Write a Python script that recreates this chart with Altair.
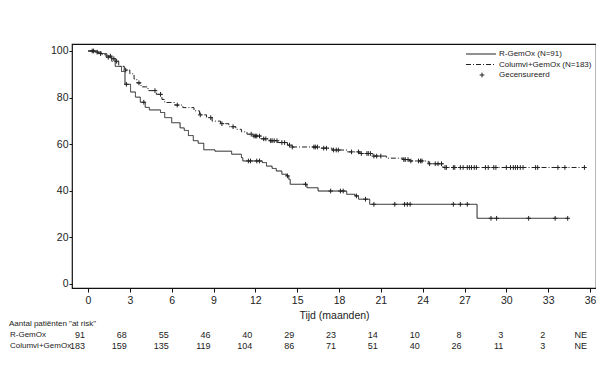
import altair as alt
import pandas as pd

# ---- Kaplan-Meier step data ----
r_times = [0, 0.7, 1.35, 1.7, 1.95, 2.4, 2.65, 3.05, 3.4, 3.75, 4.1, 4.4, 5.2, 5.5, 6.0, 6.6, 6.9,
           7.2, 7.55, 7.9, 8.3, 9.1, 10.3, 11.0, 11.1, 12.5, 12.8, 13.2, 13.5, 13.9, 14.25, 14.4,
           14.5, 15.7, 16.5, 18.55, 19.15, 19.4, 20.2, 27.9]
r_surv = [100, 98.9, 97.8, 96.7, 93.4, 91.2, 85.7, 82.4, 80.2, 78.0, 75.8, 74.7, 73.6, 71.4, 69.2,
          67.0, 65.9, 63.7, 61.5, 60.4, 57.6, 57.0, 55.7, 54.2, 52.8, 52.1, 50.6, 49.6, 48.5, 47.1,
          46.4, 44.9, 42.8, 41.3, 39.9, 38.5, 37.8, 36.4, 34.2, 28.2]
r_end = 34.4
r_cens = [0.3, 0.9, 1.6, 1.85, 2.75, 4.0, 11.5, 11.65, 12.1, 12.3, 14.3, 15.6, 17.4, 18.1, 18.3,
          19.25, 19.9, 20.5, 22.0, 22.7, 22.9, 23.1, 26.2, 26.7, 27.2, 28.9, 29.3, 31.6, 33.5, 34.4]

c_times = [0, 0.5, 1.0, 1.3, 1.7, 2.2, 2.6, 3.0, 3.3, 3.5, 3.8, 4.3, 4.9, 5.3, 5.5, 6.2, 6.8, 7.6,
           8.0, 8.5, 8.9, 9.5, 10.1, 10.6, 11.0, 11.4, 11.8, 12.4, 13.0, 13.6, 14.3, 14.6, 16.6,
           17.5, 18.6, 19.5, 20.4, 21.4, 22.6, 23.05, 24.4, 25.45]
c_surv = [100, 99.5, 98.4, 97.3, 95.6, 93.4, 91.8, 90.2, 88.0, 86.3, 84.6, 83.0, 81.4, 79.2, 77.9,
          76.8, 75.7, 74.3, 72.6, 71.4, 69.9, 68.8, 67.5, 66.4, 65.3, 64.3, 63.5, 62.3, 61.5, 60.7,
          59.6, 58.8, 58.3, 57.5, 56.7, 56.0, 54.9, 54.0, 53.4, 52.8, 51.6, 50.0]
c_end = 35.6
c_cens = [0.4, 0.65, 1.45, 2.05, 2.7, 3.65, 4.8, 5.2, 6.4, 8.05, 8.8, 9.6, 10.4, 11.7, 11.9, 12.0,
          12.1, 12.3, 12.6, 12.75, 13.1, 13.2, 13.35, 13.55, 13.9, 14.1, 14.45, 14.65, 16.2, 16.3,
          16.45, 16.9, 17.1, 17.6, 17.8, 17.95, 18.9, 19.4, 19.6, 20.0, 20.1, 20.25, 20.5, 20.7,
          21.0, 22.65, 22.75, 22.95, 23.15, 23.7, 23.85, 23.95, 24.5, 24.9, 25.1, 25.35, 25.6,
          25.7, 26.2, 26.3, 26.7, 26.9, 27.2, 27.35, 27.5, 27.7, 27.85, 28.5, 28.7, 29.1, 29.25,
          30.0, 30.3, 30.5, 30.65, 30.8, 31.0, 31.2, 32.1, 32.25, 33.7, 34.2, 35.6]

series = ["R-GemOx", "Columvi+GemOx"]
legend_labels = ["R-GemOx (N=91)", "Columvi+GemOx (N=183)", "Gecensureerd"]

x_ticks = [0, 3, 6, 9, 12, 15, 18, 21, 24, 27, 30, 33, 36]
y_ticks = [0, 20, 40, 60, 80, 100]
risk_r = ["91", "68", "55", "46", "40", "29", "23", "14", "10", "8", "3", "2", "NE"]
risk_c = ["183", "159", "135", "119", "104", "86", "71", "51", "40", "26", "11", "3", "NE"]

FONT = "Liberation Sans, Arial"
INK = "#222222"


def step_rows(times, surv, end, name):
    rows = [{"t": t, "s": s, "grp": name} for t, s in zip(times, surv)]
    rows.append({"t": end, "s": surv[-1], "grp": name})
    return rows


def cens_rows(times, surv, ctimes, name):
    out = []
    for ct in ctimes:
        s = surv[0]
        for t, v in zip(times, surv):
            if t <= ct:
                s = v
        out.append({"t": ct, "s": s, "grp": name})
    return out


lines_df = pd.DataFrame(step_rows(r_times, r_surv, r_end, series[0]) +
                        step_rows(c_times, c_surv, c_end, series[1]))
cens_df = pd.DataFrame(cens_rows(r_times, r_surv, r_cens, series[0]) +
                       cens_rows(c_times, c_surv, c_cens, series[1]))
risk_df = pd.DataFrame({"t": x_ticks, "r": risk_r, "c": risk_c})
one_df = pd.DataFrame({"k": [0]})

xs = alt.Scale(domain=[-1.15, 36.43], nice=False, zero=False)
ys = alt.Scale(domain=[-1.72, 103.0], nice=False, zero=False)

x_enc = alt.X("t:Q", scale=xs,
              axis=alt.Axis(values=x_ticks, title="Tijd (maanden)", grid=False, domain=False,
                            tickSize=4, labelPadding=3, titlePadding=5, labelFlush=False))
y_enc = alt.Y("s:Q", scale=ys,
              axis=alt.Axis(values=y_ticks, title=None, grid=False, domain=False,
                            tickSize=3, labelPadding=1))

dash = alt.StrokeDash("grp:N", scale=alt.Scale(domain=series, range=[[1, 0], [5, 2, 1, 2]]),
                      legend=None)

lines = alt.Chart(lines_df).mark_line(interpolate="step-after", strokeWidth=1, color=INK).encode(
    x=x_enc, y=y_enc, strokeDash=dash, detail="grp:N")

PLUS = "M-1,0L1,0M0,-1L0,1"
cens = alt.Chart(cens_df).mark_point(shape=PLUS, filled=False, size=22, strokeWidth=1,
                                     color=INK, opacity=1).encode(
    x=alt.X("t:Q", scale=xs), y=alt.Y("s:Q", scale=ys))


def label(text, x, y, size, align="left"):
    return alt.Chart(one_df).mark_text(align=align, baseline="middle", font=FONT, fontSize=size,
                                       color=INK, text=text).encode(x=alt.value(x), y=alt.value(y))


# ---- legend (inside, top-right) ----
LX = 427
LS = 8
leg_t1 = label(legend_labels[0], LX, 10, LS)
leg_t2 = label(legend_labels[1], LX, 20.5, LS)
leg_t3 = label(legend_labels[2], LX, 31, LS)
leg_l1 = alt.Chart(one_df).mark_rule(strokeWidth=1, color=INK).encode(
    x=alt.value(394), x2=alt.value(424), y=alt.value(10))
leg_l2 = alt.Chart(one_df).mark_rule(strokeWidth=1, color=INK, strokeDash=[5, 2, 1, 2]).encode(
    x=alt.value(394), x2=alt.value(424), y=alt.value(20.5))
leg_p = alt.Chart(one_df).mark_point(shape=PLUS, filled=False, size=22, strokeWidth=1, color=INK,
                                     opacity=1).encode(x=alt.value(410), y=alt.value(31))

# ---- at-risk table ----
hdr = label('Aantal patiënten "at risk"', -63, 280, 8)
lab_r = label(series[0], -62, 291, 8)
lab_c = label(series[1], -62, 302, 8)
num_r = alt.Chart(risk_df).mark_text(align="right", baseline="middle", font=FONT, fontSize=9,
                                     color=INK, dx=-3).encode(
    x=alt.X("t:Q", scale=xs), text="r:N", y=alt.value(291))
num_c = alt.Chart(risk_df).mark_text(align="right", baseline="middle", font=FONT, fontSize=9,
                                     color=INK, dx=-3).encode(
    x=alt.X("t:Q", scale=xs), text="c:N", y=alt.value(302))

chart = alt.layer(lines, cens, leg_l1, leg_l2, leg_p, leg_t1, leg_t2, leg_t3,
                  hdr, lab_r, lab_c, num_r, num_c).properties(
    width=524, height=244,
    autosize=alt.AutoSizeParams(type="none"),
    padding={"left": 64, "top": 36, "right": 0, "bottom": 94},
).configure_view(stroke="#111111", strokeWidth=1.2).configure_axis(
    labelFont=FONT, titleFont=FONT, labelFontSize=10.5, titleFontSize=10.5, labelColor=INK,
    titleColor=INK, titleFontWeight="normal", tickColor="#111111", tickWidth=1
)

chart.save("out.html", embed_options={"renderer": "svg", "actions": False})
